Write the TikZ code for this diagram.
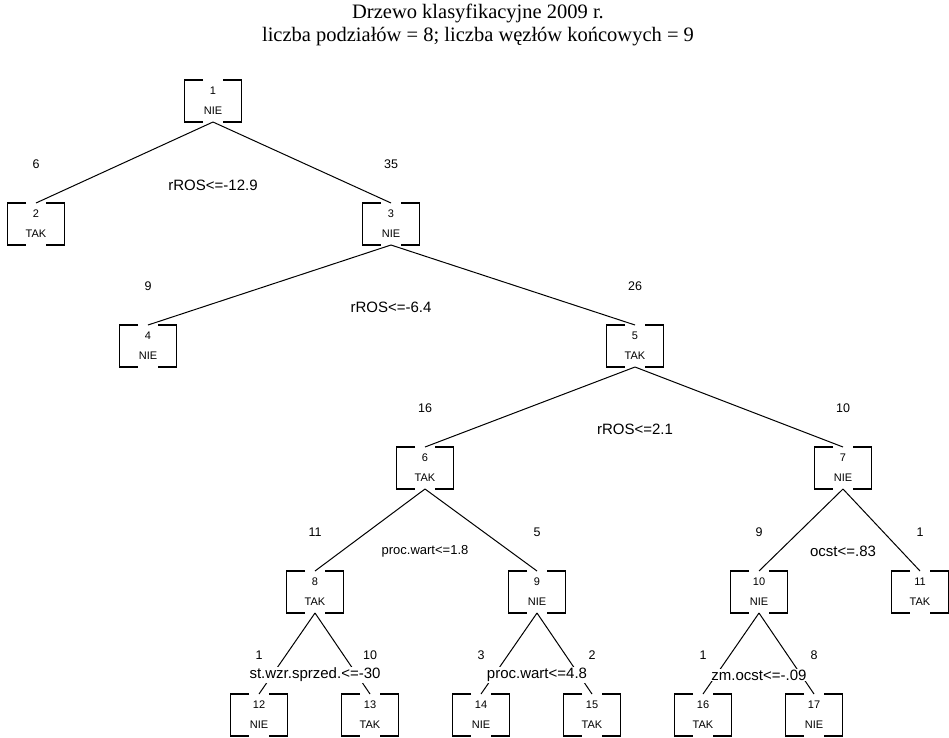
\documentclass[tikz,border=0pt]{standalone}
\usepackage{fontspec}
\setmainfont{Liberation Serif}
\setsansfont{Liberation Sans}
\usetikzlibrary{positioning}

\tikzset{
  tnode/.style={minimum width=56pt, minimum height=41pt, inner sep=0pt, align=center,
    font=\sffamily\fontsize{11}{20}\selectfont},
  brk/.style={line width=1.4pt},
  count/.style={font=\sffamily\fontsize{12.5}{12.5}\selectfont},
  split/.style={font=\sffamily\fontsize{15}{15}\selectfont, fill=white, inner sep=1pt},
}

\begin{document}
\begin{tikzpicture}[x=1pt, y=-1pt, line width=1pt]
	\useasboundingbox (0,0) rectangle (949,737);
	\def\gap{10pt}

	\node[align=center, font=\fontsize{20.5}{23.5}\selectfont] (title) at (478,25)
		{Drzewo klasyfikacyjne 2009 r.\\liczba podziałów = 8; liczba węzłów końcowych = 9};

	% wezly drzewa
	\node[tnode] (n1) at (213,101) {1\\NIE};
	\node[tnode] (n2) at (36,224) {2\\TAK};
	\node[tnode] (n3) at (391,224) {3\\NIE};
	\node[tnode] (n4) at (148,346) {4\\NIE};
	\node[tnode] (n5) at (635,346) {5\\TAK};
	\node[tnode] (n6) at (425,468) {6\\TAK};
	\node[tnode] (n7) at (843,468) {7\\NIE};
	\node[tnode] (n8) at (315,592) {8\\TAK};
	\node[tnode] (n9) at (537,592) {9\\NIE};
	\node[tnode] (n10) at (759,592) {10\\NIE};
	\node[tnode] (n11) at (920,592) {11\\TAK};
	\node[tnode] (n12) at (259,715) {12\\NIE};
	\node[tnode] (n13) at (370,715) {13\\TAK};
	\node[tnode] (n14) at (481,715) {14\\NIE};
	\node[tnode] (n15) at (592,715) {15\\TAK};
	\node[tnode] (n16) at (703,715) {16\\TAK};
	\node[tnode] (n17) at (814,715) {17\\NIE};

	\foreach \i in {1,...,17} {
		\draw[brk] ([xshift=-\gap]n\i.north) -| (n\i.south west) -- ([xshift=-\gap]n\i.south);
		\draw[brk] ([xshift=\gap]n\i.north) -| (n\i.south east) -- ([xshift=\gap]n\i.south);
	}

	% galezie
	\foreach \a/\b in {1/2,1/3,3/4,3/5,5/6,5/7,6/8,6/9,7/10,7/11,8/12,8/13,9/14,9/15,10/16,10/17}
		\draw (n\a.south) -- (n\b.north);

	% liczebnosci
	\foreach \b/\v in {2/6,3/35,4/9,5/26,6/16,7/10,8/11,9/5,10/9,11/1,12/1,13/10,14/3,15/2,16/1,17/8}
		\node[count] (c\b) at ([yshift=39pt]n\b.north) {\v};

	% warunki podzialu
	\node[split, yshift=18pt] (s1) at (n1 |- n2.north) {rROS<=-12.9};
	\node[split, yshift=18pt] (s3) at (n3 |- n4.north) {rROS<=-6.4};
	\node[split, yshift=18pt] (s5) at (n5 |- n6.north) {rROS<=2.1};
	\node[split, yshift=20pt, font=\sffamily\fontsize{13}{13}\selectfont] (s6) at (n6 |- n8.north) {proc.wart<=1.8};
	\node[split, yshift=20pt] (s7) at (n7 |- n10.north) {ocst<=.83};
	\node[split, yshift=19pt] (s8) at (n8 |- n12.north) {st.wzr.sprzed.<=-30};
	\node[split, yshift=19pt] (s9) at (n9 |- n14.north) {proc.wart<=4.8};
	\node[split, yshift=19pt] (s10) at (n10 |- n16.north) {zm.ocst<=-.09};
\end{tikzpicture}
\end{document}
